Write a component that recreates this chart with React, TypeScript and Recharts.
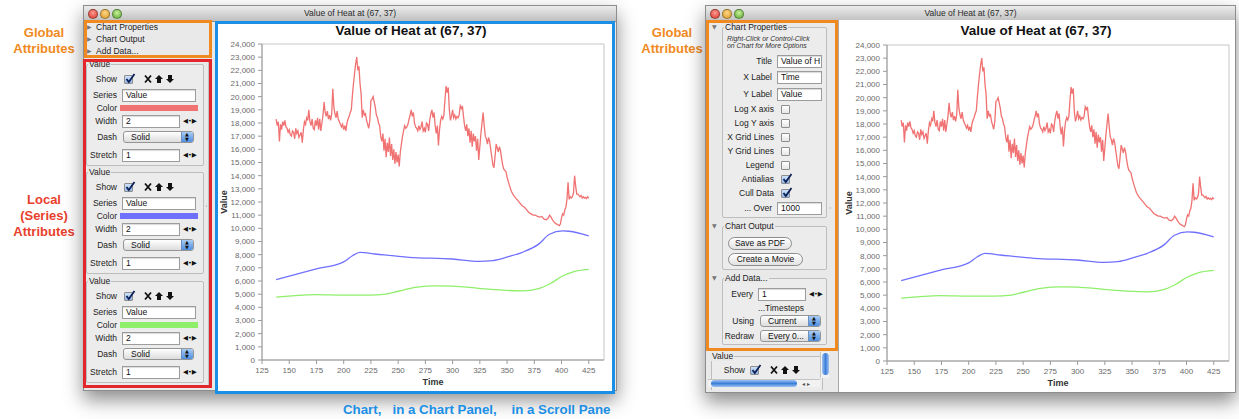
import React from 'react';
import { LineChart, Line, XAxis, YAxis, ReferenceArea } from 'recharts';

// ---------------- data ----------------
const CHART_TITLE = 'Value of Heat at (67, 37)';
const X_LABEL = 'Time';
const Y_LABEL = 'Value';
const TIME_TICKS = [125, 150, 175, 200, 225, 250, 275, 300, 325, 350, 375, 400, 425];
const VALUE_TICKS = [0, 1000, 2000, 3000, 4000, 5000, 6000, 7000, 8000, 9000, 10000, 11000, 12000, 13000, 14000, 15000, 16000, 17000, 18000, 19000, 20000, 21000, 22000, 23000, 24000];
const X_DOMAIN: [number, number] = [125, 439];
const Y_DOMAIN: [number, number] = [0, 24000];

// [time, value]
const RED_POINTS: [number, number][] = [
  [138, 18300], [139, 17800], [140, 18100], [141, 16600], [142, 17900], [143, 17500], [144, 18100], [145, 17800], [146, 18200], [147, 17700],
  [148, 17600], [149, 17300], [150, 17500], [151, 17100], [152, 17000], [153, 17400], [154, 17300], [155, 16800], [156, 17600], [157, 17200],
  [158, 17400], [159, 16900], [160, 17100], [161, 17300], [162, 16500], [163, 17500], [164, 18100], [165, 17900], [166, 18400], [167, 18200],
  [168, 19000], [169, 18100], [170, 17800], [171, 18300], [172, 17600], [173, 17500], [174, 18200], [175, 17800], [176, 18400], [177, 17500],
  [178, 18300], [179, 17400], [180, 18000], [181, 18600], [182, 19600], [183, 18800], [184, 18500], [185, 18900], [186, 18300], [187, 18600],
  [188, 18200], [189, 18700], [190, 20600], [191, 19200], [192, 18700], [193, 18400], [194, 18900], [195, 18300], [196, 18100], [197, 17900],
  [198, 17700], [199, 17900], [200, 17500], [201, 17800], [202, 17400], [203, 18000], [204, 18300], [205, 18500], [206, 18800], [207, 19000],
  [208, 20100], [209, 21000], [210, 21800], [211, 22500], [212, 23000], [213, 22000], [214, 22300], [215, 21000], [216, 20200], [217, 18400],
  [218, 19000], [219, 18600], [220, 18700], [221, 18200], [222, 17900], [223, 17600], [224, 18200], [225, 19700], [226, 19800], [227, 20000],
  [228, 19600], [229, 19200], [230, 18600], [231, 18400], [232, 18000], [233, 17800], [234, 17000], [235, 16600], [236, 17200], [237, 15900],
  [238, 16800], [239, 15400], [240, 16500], [241, 15800], [242, 16900], [243, 15500], [244, 16400], [245, 15200], [246, 16000], [247, 14900],
  [248, 15800], [249, 15000], [250, 15600], [251, 14700], [252, 15800], [253, 16400], [254, 17000], [255, 17400], [256, 17800], [257, 17600],
  [258, 17700], [259, 17900], [260, 18300], [261, 18600], [262, 19000], [263, 18500], [264, 18800], [265, 18000], [266, 17700], [267, 17600],
  [268, 17400], [269, 17800], [270, 17500], [271, 17700], [272, 18100], [273, 17400], [274, 17600], [275, 17300], [276, 18000], [277, 17900],
  [278, 17400], [279, 18200], [280, 18700], [281, 19000], [282, 18400], [283, 18800], [284, 17800], [285, 17200], [286, 17800], [287, 16300],
  [288, 17500], [289, 18200], [290, 18500], [291, 18300], [292, 18600], [293, 19800], [294, 20800], [295, 20300], [296, 20700], [297, 19000],
  [298, 18200], [299, 18500], [300, 19000], [301, 18400], [302, 18600], [303, 18300], [304, 18500], [305, 18400], [306, 18600], [307, 19300],
  [308, 19100], [309, 19300], [310, 18500], [311, 17800], [312, 17400], [313, 17900], [314, 17000], [315, 17600], [316, 16500], [317, 17400],
  [318, 16200], [319, 17200], [320, 16600], [321, 17000], [322, 15900], [323, 16800], [324, 15200], [325, 16200], [326, 17200], [327, 18000],
  [328, 18800], [329, 17800], [330, 17000], [331, 16800], [332, 16400], [333, 16900], [334, 16600], [335, 16000], [336, 15400], [337, 14800],
  [338, 14600], [339, 15500], [340, 16400], [341, 16100], [342, 15800], [343, 16200], [344, 15900], [345, 15300], [346, 14800], [347, 14500],
  [348, 14400], [349, 14300], [350, 13900], [352, 13300], [354, 12800], [356, 12500], [358, 12300], [360, 12100], [362, 11900], [364, 11700],
  [366, 11600], [368, 11400], [370, 11200], [372, 11100], [374, 11000], [376, 11000], [378, 10900], [380, 10850], [382, 10900], [384, 10700],
  [386, 10650], [388, 10800], [389, 11000], [390, 10900], [392, 10600], [394, 10400], [396, 10300], [398, 10200], [399, 10350], [400, 10800],
  [401, 11100], [402, 11000], [403, 11400], [404, 11600], [405, 12200], [406, 13500], [407, 12200], [408, 12400], [409, 12300], [410, 12400],
  [411, 12700], [412, 14000], [413, 13200], [414, 12600], [415, 12600], [416, 12500], [417, 12400], [418, 12500], [419, 12300], [420, 12400],
  [421, 12300], [422, 12350], [423, 12250], [424, 12400], [425, 12300],
];

const BLUE_POINTS: [number, number][] = [
  [138, 6100], [174, 6900], [200, 7450], [208, 7920], [215, 8170], [229, 8050], [260, 7800], [300, 7670], [324, 7490],
  [337, 7550], [352, 7870], [364, 8180], [379, 8800], [389, 9550], [401, 9800], [407, 9780], [425, 9420],
];

const GREEN_POINTS: [number, number][] = [
  [138, 4770], [174, 4970], [199, 4930], [223, 4920], [239, 5000], [251, 5240], [266, 5520], [285, 5630], [300, 5610],
  [324, 5440], [346, 5300], [364, 5250], [379, 5420], [389, 5770], [401, 6380], [410, 6680], [425, 6880],
];

const SERIES_COLORS = ['#f07272', '#7070ff', '#8fef6b'];

const redData = RED_POINTS.map(([time, value]) => ({ time, value }));
const blueData = BLUE_POINTS.map(([time, value]) => ({ time, value }));
const greenData = GREEN_POINTS.map(([time, value]) => ({ time, value }));

// ---------------- styles ----------------
const UI_FONT = '"Liberation Sans", Arial, sans-serif';
const SYM_FONT = '"DejaVu Sans", sans-serif';

type AbsProps = { x: number; y: number; w?: number; h?: number; style?: React.CSSProperties; children?: React.ReactNode };
function Abs({ x, y, w, h, style, children }: AbsProps) {
  return (
    <div style={{ position: 'absolute', left: x, top: y, width: w, height: h, boxSizing: 'border-box', ...style }}>{children}</div>
  );
}

type TxtProps = {
  x: number; cy: number; text: string; size?: number; align?: 'left' | 'right' | 'center';
  color?: string; weight?: string | number; italic?: boolean; font?: string; w?: number; bg?: string;
};
function Txt({ x, cy, text, size = 8.5, align = 'left', color = '#1c1c1c', weight = 'normal', italic = false, font = UI_FONT, w = 200, bg }: TxtProps) {
  const h = 14;
  let left = x;
  if (align === 'right') left = x - w;
  if (align === 'center') left = x - w / 2;
  return (
    <div style={{
      position: 'absolute', left, top: cy - h / 2, width: w, height: h, lineHeight: h + 'px', fontSize: size,
      textAlign: align, color, fontWeight: weight as any, fontStyle: italic ? 'italic' : 'normal', whiteSpace: 'pre',
      fontFamily: font,
    }}>
      {bg ? <span style={{ background: bg, padding: '0 1px' }}>{text}</span> : text}
    </div>
  );
}

function Field({ x, cy, w, text }: { x: number; cy: number; w: number; text: string }) {
  return (
    <Abs x={x} y={cy - 6.5} w={w} h={13} style={{ background: '#fff', border: '1px solid #9c9c9c', boxShadow: 'inset 0 1px 1px rgba(0,0,0,0.15)', overflow: 'hidden' }}>
      <div style={{ position: 'absolute', left: 3, top: 0, lineHeight: '11px', fontSize: 8.5, fontFamily: UI_FONT, color: '#111', whiteSpace: 'pre' }}>{text}</div>
    </Abs>
  );
}

function Check({ x, cy, checked }: { x: number; cy: number; checked?: boolean }) {
  return (
    <Abs x={x} y={cy - 4.5} w={9} h={9} style={{
      border: '1px solid #8e8e8e', borderRadius: 1,
      background: checked ? 'linear-gradient(#cfe2fa, #8fb6ea)' : 'linear-gradient(#ffffff, #e6e6e6)',
    }}>
      {checked ? (
        <svg width={11} height={11} style={{ position: 'absolute', left: 0, top: -3 }}>
          <polyline points="1.5,6 3.8,9 9.5,1" fill="none" stroke="#0c1f55" strokeWidth={1.8} />
        </svg>
      ) : null}
    </Abs>
  );
}

function Select({ x, cy, w, text }: { x: number; cy: number; w: number; text: string }) {
  return (
    <Abs x={x} y={cy - 6} w={w} h={12} style={{ border: '1px solid #959595', borderRadius: 3, background: 'linear-gradient(#ffffff, #dcdcdc)', overflow: 'hidden' }}>
      <div style={{ position: 'absolute', left: 7, top: 0, lineHeight: '10px', fontSize: 8.5, fontFamily: UI_FONT, color: '#111', whiteSpace: 'pre' }}>{text}</div>
      <div style={{ position: 'absolute', right: 0, top: 0, width: 11, height: 10, background: 'linear-gradient(#a9ccf5, #4f8fe0)', borderLeft: '1px solid #6a8fc0' }}>
        <div style={{ position: 'absolute', left: 3, top: -1, fontSize: 5, lineHeight: '6px', color: '#111', fontFamily: SYM_FONT }}>▲</div>
        <div style={{ position: 'absolute', left: 3, top: 4, fontSize: 5, lineHeight: '6px', color: '#111', fontFamily: SYM_FONT }}>▼</div>
      </div>
    </Abs>
  );
}

function Button({ x, cy, w, text }: { x: number; cy: number; w: number; text: string }) {
  return (
    <Abs x={x} y={cy - 6.5} w={w} h={13} style={{ border: '1px solid #8c8c8c', borderRadius: 7, background: 'linear-gradient(#ffffff, #e2e2e2)' }}>
      <div style={{ position: 'absolute', left: 0, right: 0, top: 0, textAlign: 'center', lineHeight: '11px', fontSize: 8.5, fontFamily: UI_FONT, color: '#111' }}>{text}</div>
    </Abs>
  );
}

function Group({ x, y, w, h, title, bg = '#e9e9e9' }: { x: number; y: number; w: number; h: number; title: string; bg?: string }) {
  return (
    <>
      <Abs x={x} y={y} w={w} h={h} style={{ border: '1px solid #bdbdbd', borderRadius: 2, background: '#ececec' }} />
      <Txt x={x + 2} cy={y} text={title} bg={bg} />
    </>
  );
}

function Stepper({ x, cy }: { x: number; cy: number }) {
  return <Txt x={x} cy={cy} text="◀•▶" size={6.5} font={SYM_FONT} color="#111" />;
}

function Tri({ x, cy, down }: { x: number; cy: number; down?: boolean }) {
  return <Txt x={x} cy={cy} text={down ? '▼' : '▶'} size={6} font={SYM_FONT} color="#777" />;
}

function Icons({ x, cy }: { x: number; cy: number }) {
  return (
    <svg width={34} height={10} style={{ position: 'absolute', left: x, top: cy - 5 }}>
      <path d="M1,1.5 L7,8.5 M7,1.5 L1,8.5" stroke="#111" strokeWidth={1.8} />
      <polygon points="15,1 19,5 17,5 17,9 13,9 13,5 11,5" fill="#111" />
      <polygon points="26,9 30,5 28,5 28,1 24,1 24,5 22,5" fill="#111" />
    </svg>
  );
}

function Window({ x, y, w, h, title }: { x: number; y: number; w: number; h: number; title: string }) {
  const light = (cx: number, c1: string, c2: string) => (
    <div style={{ position: 'absolute', left: cx - 5, top: 3, width: 10, height: 10, borderRadius: 5, background: `radial-gradient(circle at 50% 35%, ${c1}, ${c2})`, border: '0.5px solid rgba(0,0,0,0.35)', boxSizing: 'border-box' }} />
  );
  return (
    <Abs x={x} y={y} w={w} h={h} style={{ background: '#e9e9e9', border: '1px solid #8d8d8d', boxShadow: '0 9px 18px rgba(0,0,0,0.45)' }}>
      <div style={{ position: 'absolute', left: 0, top: 0, right: 0, height: 15, background: 'linear-gradient(#ececec, #bfbfbf)', borderBottom: '1px solid #8f8f8f' }}>
        {light(9, '#ff9a8f', '#d5362b')}
        {light(21, '#ffd68a', '#d99a1d')}
        {light(33, '#c9f29a', '#5aa62e')}
        <div style={{ position: 'absolute', left: 0, right: 0, top: 0, lineHeight: '15px', textAlign: 'center', fontSize: 8.5, fontFamily: UI_FONT, color: '#2a2a2a' }}>{title}</div>
      </div>
    </Abs>
  );
}

function SeriesGroup({ y0, color }: { y0: number; color: string }) {
  return (
    <>
      <Group x={86} y={y0} w={118} h={102} title="Value" />
      <Txt x={117} cy={y0 + 15} text="Show" align="right" />
      <Check x={124} cy={y0 + 15} checked />
      <Icons x={144} cy={y0 + 15} />
      <Txt x={117} cy={y0 + 31} text="Series" align="right" />
      <Field x={122} cy={y0 + 31} w={74} text="Value" />
      <Txt x={117} cy={y0 + 44} text="Color" align="right" />
      <Abs x={120} y={y0 + 41} w={78} h={6} style={{ background: color }} />
      <Txt x={117} cy={y0 + 57} text="Width" align="right" />
      <Field x={122} cy={y0 + 57} w={58} text="2" />
      <Stepper x={183} cy={y0 + 57} />
      <Txt x={117} cy={y0 + 73} text="Dash" align="right" />
      <Select x={123} cy={y0 + 73} w={71} text="Solid" />
      <Txt x={117} cy={y0 + 91} text="Stretch" align="right" />
      <Field x={122} cy={y0 + 91} w={58} text="1" />
      <Stepper x={183} cy={y0 + 91} />
    </>
  );
}

// ---------------- chart ----------------
const tickStyle = { fill: '#6a6a6a', fontSize: 8, fontFamily: UI_FONT };

function HeatChart({ left, top, width }: { left: number; top: number; width: number }) {
  const height = 367;
  return (
    <div style={{ position: 'absolute', left, top, width, height }}>
      <LineChart width={width} height={height} margin={{ top: 20, right: width - 386, bottom: 0, left: 0 }}>
        <ReferenceArea x1={X_DOMAIN[0]} x2={X_DOMAIN[1]} y1={Y_DOMAIN[0]} y2={Y_DOMAIN[1]} fill="none" stroke="#c6c6c6" strokeWidth={1} ifOverflow="visible" />
        <XAxis
          type="number" dataKey="time" domain={X_DOMAIN} ticks={TIME_TICKS} interval={0} allowDataOverflow
          height={31} tickSize={4} tickMargin={3} stroke="#9a9a9a" tick={tickStyle}
          label={{
            content: (p: any) => (
              <text x={p.viewBox.x + p.viewBox.width / 2} y={p.viewBox.y + 25} textAnchor="middle" fontSize={9} fontWeight="bold" fontFamily={UI_FONT} fill="#333">{X_LABEL}</text>
            ),
          }}
        />
        <YAxis
          type="number" domain={Y_DOMAIN} ticks={VALUE_TICKS} interval={0} allowDataOverflow
          width={44} tickSize={4} tickMargin={3} stroke="#9a9a9a" tick={tickStyle}
          tickFormatter={(v: number) => v.toLocaleString('en-US')}
          label={{
            content: (p: any) => {
              const cx = p.viewBox.x + 6;
              const cy = p.viewBox.y + p.viewBox.height / 2;
              return (
                <text x={cx} y={cy} transform={`rotate(-90, ${cx}, ${cy})`} textAnchor="middle" dominantBaseline="central" fontSize={9} fontWeight="bold" fontFamily={UI_FONT} fill="#333">{Y_LABEL}</text>
              );
            },
          }}
        />
        <Line data={redData} dataKey="value" type="linear" stroke={SERIES_COLORS[0]} strokeWidth={1.3} dot={false} isAnimationActive={false} />
        <Line data={blueData} dataKey="value" type="monotone" stroke={SERIES_COLORS[1]} strokeWidth={1.3} dot={false} isAnimationActive={false} />
        <Line data={greenData} dataKey="value" type="monotone" stroke={SERIES_COLORS[2]} strokeWidth={1.3} dot={false} isAnimationActive={false} />
      </LineChart>
    </div>
  );
}

// ---------------- app ----------------
export default function App() {
  const ORANGE = '#f08a1e';
  const RED = '#e2262c';
  const BLUE = '#1b8fe6';
  return (
    <div style={{ position: 'fixed', left: 0, top: 0, width: 1239, height: 419, background: '#ffffff', overflow: 'hidden', fontFamily: UI_FONT }}>
      {/* annotations left */}
      <Txt x={44} cy={33} text="Global" align="center" size={13} weight="bold" color={ORANGE} w={120} />
      <Txt x={44} cy={49} text="Attributes" align="center" size={13} weight="bold" color={ORANGE} w={120} />
      <Txt x={44} cy={200} text="Local" align="center" size={13} weight="bold" color="#e8402c" w={120} />
      <Txt x={44} cy={216} text="(Series)" align="center" size={13} weight="bold" color="#e8402c" w={120} />
      <Txt x={44} cy={232} text="Attributes" align="center" size={13} weight="bold" color="#e8402c" w={120} />

      {/* left window */}
      <Window x={83} y={5} w={534} h={386} title={CHART_TITLE} />
      <Abs x={208} y={60} w={1} h={326} style={{ background: '#c2c2c2' }} />
      <Txt x={205} cy={205} text="˒" size={8} color="#555" />

      {/* left global attributes */}
      <Abs x={84} y={20} w={128} h={38} style={{ border: `3px solid ${ORANGE}` }} />
      <Tri x={87} cy={27} />
      <Txt x={96} cy={27} text="Chart Properties" />
      <Tri x={87} cy={39} />
      <Txt x={96} cy={39} text="Chart Output" />
      <Tri x={87} cy={51} />
      <Txt x={96} cy={51} text="Add Data..." />

      {/* left series attributes */}
      <SeriesGroup y0={64} color={SERIES_COLORS[0]} />
      <SeriesGroup y0={172} color={SERIES_COLORS[1]} />
      <SeriesGroup y0={281} color={SERIES_COLORS[2]} />
      <Abs x={83} y={59} w={129} h={329} style={{ border: `3px solid ${RED}` }} />

      {/* left chart panel */}
      <Abs x={215} y={21} w={400} h={373} style={{ background: '#ffffff', border: `3px solid ${BLUE}` }} />
      <Txt x={411} cy={31} text={CHART_TITLE} align="center" size={13.5} weight="bold" color="#111" w={300} />
      <HeatChart left={218} top={24} width={393} />
      <Txt x={343} cy={410} text={'Chart,   in a Chart Panel,    in a Scroll Pane'} size={13.3} weight="bold" color={BLUE} w={300} />

      {/* annotations right */}
      <Txt x={672} cy={33} text="Global" align="center" size={13} weight="bold" color={ORANGE} w={120} />
      <Txt x={672} cy={49} text="Attributes" align="center" size={13} weight="bold" color={ORANGE} w={120} />

      {/* right window */}
      <Window x={705} y={5} w={531} h={388} title={CHART_TITLE} />
      <Abs x={838} y={20} w={397} h={372} style={{ background: '#ffffff', borderLeft: '1px solid #a8a8a8' }} />
      <Txt x={1036} cy={31} text={CHART_TITLE} align="center" size={13.5} weight="bold" color="#111" w={300} />
      <HeatChart left={843} top={25} width={392} />
      <Txt x={829} cy={207} text="˒" size={8} color="#555" />

      {/* right chart properties */}
      <Group x={722} y={27} w={105} h={191} title="Chart Properties" />
      <Tri x={712} cy={27} down />
      <Txt x={727} cy={39} text="Right-Click or Control-Click" size={6.9} italic color="#333" />
      <Txt x={727} cy={46} text="on Chart for More Options" size={6.9} italic color="#333" />
      <Txt x={772} cy={61} text="Title" align="right" />
      <Field x={777} cy={61} w={45} text="Value of H" />
      <Txt x={772} cy={77} text="X Label" align="right" />
      <Field x={777} cy={77} w={45} text="Time" />
      <Txt x={772} cy={94} text="Y Label" align="right" />
      <Field x={777} cy={94} w={45} text="Value" />
      <Txt x={774} cy={109} text="Log X axis" align="right" />
      <Check x={781} cy={109} />
      <Txt x={774} cy={123} text="Log Y axis" align="right" />
      <Check x={781} cy={123} />
      <Txt x={774} cy={137} text="X Grid Lines" align="right" />
      <Check x={781} cy={137} />
      <Txt x={774} cy={151} text="Y Grid Lines" align="right" />
      <Check x={781} cy={151} />
      <Txt x={774} cy={165} text="Legend" align="right" />
      <Check x={781} cy={165} />
      <Txt x={774} cy={179} text="Antialias" align="right" />
      <Check x={781} cy={179} checked />
      <Txt x={774} cy={193} text="Cull Data" align="right" />
      <Check x={781} cy={193} checked />
      <Txt x={772} cy={208} text="... Over" align="right" />
      <Field x={777} cy={208} w={45} text="1000" />

      {/* right chart output */}
      <Group x={722} y={226} w={105} h={44} title="Chart Output" />
      <Tri x={712} cy={226} down />
      <Button x={728} cy={243} w={64} text="Save as PDF" />
      <Button x={728} cy={259} w={75} text="Create a Movie" />

      {/* right add data */}
      <Group x={722} y={278} w={105} h={67} title="Add Data..." />
      <Tri x={712} cy={278} down />
      <Txt x={753} cy={294} text="Every" align="right" />
      <Field x={758} cy={294} w={48} text="1" />
      <Stepper x={809} cy={294} />
      <Txt x={781} cy={308} text="...Timesteps" align="center" w={80} />
      <Txt x={754} cy={321} text="Using" align="right" />
      <Select x={760} cy={321} w={61} text="Current" />
      <Txt x={754} cy={336} text="Redraw" align="right" />
      <Select x={760} cy={336} w={61} text="Every 0..." />

      <Abs x={706} y={20} w={132} h={331} style={{ border: `3px solid ${ORANGE}` }} />

      {/* right series (scrolled) */}
      <Abs x={708} y={352} w={129} h={38} style={{ background: '#e9e9e9', overflow: 'hidden' }}>
        <Abs x={3} y={4} w={112} h={40} style={{ border: '1px solid #bdbdbd', borderRadius: 2, background: '#ececec' }} />
      </Abs>
      <Txt x={711} cy={356} text="Value" bg="#e9e9e9" />
      <Txt x={745} cy={370} text="Show" align="right" />
      <Check x={750} cy={370} checked />
      <Icons x={770} cy={370} />
      <Abs x={820} y={352} w={9} h={26} style={{ background: '#f2f2f2', borderLeft: '1px solid #c4c4c4' }}>
        <Abs x={1} y={1} w={7} h={22} style={{ borderRadius: 4, background: 'linear-gradient(90deg, #9cc2f2, #3d7fd8, #9cc2f2)' }} />
      </Abs>
      <Abs x={708} y={379} w={112} h={8} style={{ background: '#f2f2f2', borderTop: '1px solid #c4c4c4' }}>
        <Abs x={3} y={0} w={86} h={7} style={{ borderRadius: 4, background: 'linear-gradient(#9cc2f2, #3d7fd8, #9cc2f2)' }} />
        <Txt x={94} cy={3.5} text="◂ ▸" size={6} font={SYM_FONT} color="#555" />
      </Abs>
    </div>
  );
}
